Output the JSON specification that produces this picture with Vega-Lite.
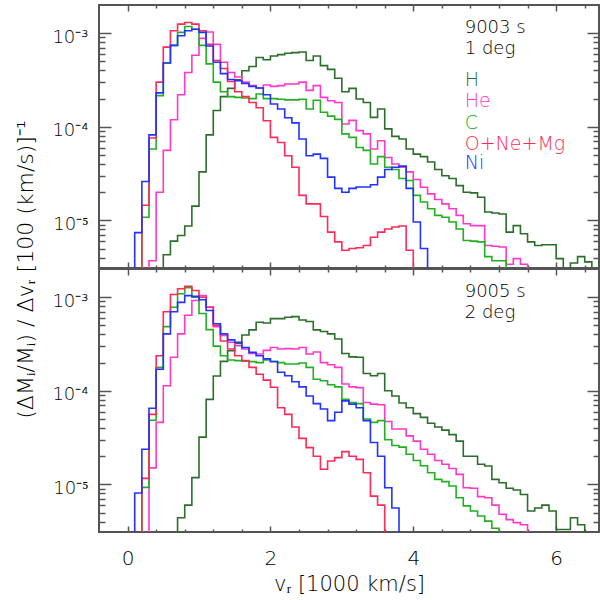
{
"$schema": "https://vega.github.io/schema/vega-lite/v6.json",
"autosize": {"type": "pad"},
"padding": {"left": 13, "top": 3, "right": 3, "bottom": 5},
"bounds": "flush",
"spacing": 1,
"config": {
  "view": {"stroke": "#555555", "strokeWidth": 2},
  "axis": {"grid": false, "domain": false, "labelFont": "DejaVu Sans", "titleFont": "DejaVu Sans", "labelColor": "#000000", "titleColor": "#000000", "tickColor": "#555555", "tickWidth": 1.5, "titleFontWeight": 300, "labelFontWeight": 300, "labelFlush": false, "labelOverlap": false},
  "text": {"font": "DejaVu Sans", "fontWeight": 300}
},
"datasets": {
"notes": [
{"p":"t","label":"9003 s","v":4.72,"f":1.0e-3},
{"p":"t","label":"1 deg","v":4.72,"f":5.95e-4},
{"p":"b","label":"9005 s","v":4.72,"f":1.0e-3},
{"p":"b","label":"2 deg","v":4.72,"f":5.95e-4}
],
"legend": [
{"el":"H","v":4.72,"f":2.7e-4},
{"el":"He","v":4.72,"f":1.61e-4},
{"el":"C","v":4.72,"f":9.5e-5},
{"el":"O+Ne+Mg","v":4.72,"f":5.7e-5},
{"el":"Ni","v":4.72,"f":3.5e-5}
],
"hist": [
{"p":"t","el":"H","v":0.4,"f":1e-9},{"p":"t","el":"H","v":0.5,"f":4.3e-6},{"p":"t","el":"H","v":0.6,"f":6.0e-6},{"p":"t","el":"H","v":0.7,"f":6.9e-6},{"p":"t","el":"H","v":0.8,"f":8.7e-6},{"p":"t","el":"H","v":0.9,"f":1.42e-5},{"p":"t","el":"H","v":1.0,"f":3.3e-5},{"p":"t","el":"H","v":1.1,"f":8.2e-5},{"p":"t","el":"H","v":1.2,"f":1.49e-4},{"p":"t","el":"H","v":1.3,"f":2.1e-4},{"p":"t","el":"H","v":1.4,"f":2.57e-4},{"p":"t","el":"H","v":1.5,"f":3.18e-4},{"p":"t","el":"H","v":1.6,"f":3.97e-4},{"p":"t","el":"H","v":1.7,"f":4.4e-4},{"p":"t","el":"H","v":1.8,"f":5.5e-4},{"p":"t","el":"H","v":1.9,"f":5.2e-4},{"p":"t","el":"H","v":2.0,"f":5.7e-4},{"p":"t","el":"H","v":2.1,"f":5.9e-4},{"p":"t","el":"H","v":2.2,"f":6.1e-4},{"p":"t","el":"H","v":2.3,"f":6.2e-4},{"p":"t","el":"H","v":2.4,"f":6.3e-4},{"p":"t","el":"H","v":2.5,"f":5.1e-4},{"p":"t","el":"H","v":2.6,"f":5.7e-4},{"p":"t","el":"H","v":2.7,"f":4.5e-4},{"p":"t","el":"H","v":2.8,"f":4.1e-4},{"p":"t","el":"H","v":2.9,"f":3.3e-4},{"p":"t","el":"H","v":3.0,"f":2.37e-4},{"p":"t","el":"H","v":3.1,"f":2.57e-4},{"p":"t","el":"H","v":3.2,"f":1.98e-4},{"p":"t","el":"H","v":3.3,"f":1.82e-4},{"p":"t","el":"H","v":3.4,"f":1.26e-4},{"p":"t","el":"H","v":3.5,"f":1.55e-4},{"p":"t","el":"H","v":3.6,"f":9.5e-5},{"p":"t","el":"H","v":3.7,"f":7.9e-5},{"p":"t","el":"H","v":3.8,"f":7.4e-5},{"p":"t","el":"H","v":3.9,"f":5.8e-5},{"p":"t","el":"H","v":4.0,"f":5.1e-5},{"p":"t","el":"H","v":4.1,"f":4.8e-5},{"p":"t","el":"H","v":4.2,"f":4.2e-5},{"p":"t","el":"H","v":4.3,"f":3.5e-5},{"p":"t","el":"H","v":4.4,"f":3.0e-5},{"p":"t","el":"H","v":4.5,"f":2.8e-5},{"p":"t","el":"H","v":4.6,"f":2.35e-5},{"p":"t","el":"H","v":4.7,"f":2.0e-5},{"p":"t","el":"H","v":4.8,"f":1.97e-5},{"p":"t","el":"H","v":4.9,"f":1.77e-5},{"p":"t","el":"H","v":5.0,"f":1.23e-5},{"p":"t","el":"H","v":5.1,"f":1.2e-5},{"p":"t","el":"H","v":5.2,"f":1.17e-5},{"p":"t","el":"H","v":5.3,"f":7.5e-6},{"p":"t","el":"H","v":5.4,"f":8.8e-6},{"p":"t","el":"H","v":5.5,"f":7.2e-6},{"p":"t","el":"H","v":5.6,"f":5.9e-6},{"p":"t","el":"H","v":5.7,"f":5.4e-6},{"p":"t","el":"H","v":5.8,"f":5.5e-6},{"p":"t","el":"H","v":5.9,"f":5.5e-6},{"p":"t","el":"H","v":6.0,"f":3.9e-6},{"p":"t","el":"H","v":6.1,"f":1e-9},{"p":"t","el":"H","v":6.2,"f":3.5e-6},{"p":"t","el":"H","v":6.3,"f":4.1e-6},{"p":"t","el":"H","v":6.4,"f":3.6e-6},{"p":"t","el":"H","v":6.5,"f":1e-9},
{"p":"t","el":"He","v":0.2,"f":1e-9},{"p":"t","el":"He","v":0.3,"f":3.7e-6},{"p":"t","el":"He","v":0.4,"f":2.0e-5},{"p":"t","el":"He","v":0.5,"f":5.6e-5},{"p":"t","el":"He","v":0.6,"f":1.19e-4},{"p":"t","el":"He","v":0.7,"f":2.2e-4},{"p":"t","el":"He","v":0.8,"f":3.8e-4},{"p":"t","el":"He","v":0.9,"f":5.8e-4},{"p":"t","el":"He","v":1.0,"f":8.8e-4},{"p":"t","el":"He","v":1.1,"f":1.03e-3},{"p":"t","el":"He","v":1.2,"f":7.6e-4},{"p":"t","el":"He","v":1.3,"f":4.9e-4},{"p":"t","el":"He","v":1.4,"f":3.8e-4},{"p":"t","el":"He","v":1.5,"f":3.4e-4},{"p":"t","el":"He","v":1.6,"f":3.0e-4},{"p":"t","el":"He","v":1.7,"f":2.75e-4},{"p":"t","el":"He","v":1.8,"f":2.6e-4},{"p":"t","el":"He","v":1.9,"f":2.8e-4},{"p":"t","el":"He","v":2.0,"f":2.7e-4},{"p":"t","el":"He","v":2.1,"f":2.75e-4},{"p":"t","el":"He","v":2.2,"f":2.86e-4},{"p":"t","el":"He","v":2.3,"f":2.86e-4},{"p":"t","el":"He","v":2.4,"f":3.0e-4},{"p":"t","el":"He","v":2.5,"f":2.45e-4},{"p":"t","el":"He","v":2.6,"f":2.75e-4},{"p":"t","el":"He","v":2.7,"f":2.06e-4},{"p":"t","el":"He","v":2.8,"f":1.9e-4},{"p":"t","el":"He","v":2.9,"f":1.82e-4},{"p":"t","el":"He","v":3.0,"f":1.07e-4},{"p":"t","el":"He","v":3.1,"f":1.17e-4},{"p":"t","el":"He","v":3.2,"f":9.1e-5},{"p":"t","el":"He","v":3.3,"f":8.4e-5},{"p":"t","el":"He","v":3.4,"f":5.8e-5},{"p":"t","el":"He","v":3.5,"f":7.1e-5},{"p":"t","el":"He","v":3.6,"f":4.7e-5},{"p":"t","el":"He","v":3.7,"f":4.0e-5},{"p":"t","el":"He","v":3.8,"f":3.7e-5},{"p":"t","el":"He","v":3.9,"f":3.3e-5},{"p":"t","el":"He","v":4.0,"f":2.73e-5},{"p":"t","el":"He","v":4.1,"f":2.26e-5},{"p":"t","el":"He","v":4.2,"f":1.92e-5},{"p":"t","el":"He","v":4.3,"f":1.67e-5},{"p":"t","el":"He","v":4.4,"f":1.5e-5},{"p":"t","el":"He","v":4.5,"f":1.33e-5},{"p":"t","el":"He","v":4.6,"f":1.13e-5},{"p":"t","el":"He","v":4.7,"f":9.2e-6},{"p":"t","el":"He","v":4.8,"f":8.8e-6},{"p":"t","el":"He","v":4.9,"f":8.8e-6},{"p":"t","el":"He","v":5.0,"f":5.4e-6},{"p":"t","el":"He","v":5.1,"f":5.3e-6},{"p":"t","el":"He","v":5.2,"f":5.2e-6},{"p":"t","el":"He","v":5.3,"f":3.4e-6},{"p":"t","el":"He","v":5.4,"f":3.9e-6},{"p":"t","el":"He","v":5.5,"f":3.4e-6},{"p":"t","el":"He","v":5.6,"f":1e-9},
{"p":"t","el":"C","v":0.1,"f":1e-9},{"p":"t","el":"C","v":0.2,"f":1.08e-5},{"p":"t","el":"C","v":0.3,"f":5.8e-5},{"p":"t","el":"C","v":0.4,"f":2.15e-4},{"p":"t","el":"C","v":0.5,"f":4.8e-4},{"p":"t","el":"C","v":0.6,"f":7.4e-4},{"p":"t","el":"C","v":0.7,"f":1.02e-3},{"p":"t","el":"C","v":0.8,"f":1.18e-3},{"p":"t","el":"C","v":0.9,"f":1.1e-3},{"p":"t","el":"C","v":1.0,"f":7.4e-4},{"p":"t","el":"C","v":1.1,"f":4.7e-4},{"p":"t","el":"C","v":1.2,"f":3.0e-4},{"p":"t","el":"C","v":1.3,"f":2.37e-4},{"p":"t","el":"C","v":1.4,"f":2.1e-4},{"p":"t","el":"C","v":1.5,"f":2.06e-4},{"p":"t","el":"C","v":1.6,"f":2.03e-4},{"p":"t","el":"C","v":1.7,"f":2.0e-4},{"p":"t","el":"C","v":1.8,"f":2.24e-4},{"p":"t","el":"C","v":1.9,"f":2.0e-4},{"p":"t","el":"C","v":2.0,"f":2.0e-4},{"p":"t","el":"C","v":2.1,"f":1.97e-4},{"p":"t","el":"C","v":2.2,"f":1.94e-4},{"p":"t","el":"C","v":2.3,"f":1.94e-4},{"p":"t","el":"C","v":2.4,"f":1.97e-4},{"p":"t","el":"C","v":2.5,"f":1.55e-4},{"p":"t","el":"C","v":2.6,"f":1.92e-4},{"p":"t","el":"C","v":2.7,"f":1.43e-4},{"p":"t","el":"C","v":2.8,"f":1.3e-4},{"p":"t","el":"C","v":2.9,"f":1.2e-4},{"p":"t","el":"C","v":3.0,"f":8.4e-5},{"p":"t","el":"C","v":3.1,"f":7.7e-5},{"p":"t","el":"C","v":3.2,"f":6.0e-5},{"p":"t","el":"C","v":3.3,"f":5.6e-5},{"p":"t","el":"C","v":3.4,"f":4.0e-5},{"p":"t","el":"C","v":3.5,"f":4.8e-5},{"p":"t","el":"C","v":3.6,"f":3.7e-5},{"p":"t","el":"C","v":3.7,"f":3.5e-5},{"p":"t","el":"C","v":3.8,"f":2.8e-5},{"p":"t","el":"C","v":3.9,"f":2.67e-5},{"p":"t","el":"C","v":4.0,"f":1.85e-5},{"p":"t","el":"C","v":4.1,"f":1.57e-5},{"p":"t","el":"C","v":4.2,"f":1.33e-5},{"p":"t","el":"C","v":4.3,"f":1.13e-5},{"p":"t","el":"C","v":4.4,"f":1.08e-5},{"p":"t","el":"C","v":4.5,"f":9.6e-6},{"p":"t","el":"C","v":4.6,"f":8.1e-6},{"p":"t","el":"C","v":4.7,"f":6.1e-6},{"p":"t","el":"C","v":4.8,"f":6.0e-6},{"p":"t","el":"C","v":4.9,"f":5.9e-6},{"p":"t","el":"C","v":5.0,"f":4.1e-6},{"p":"t","el":"C","v":5.1,"f":3.7e-6},{"p":"t","el":"C","v":5.2,"f":3.7e-6},{"p":"t","el":"C","v":5.3,"f":1e-9},
{"p":"t","el":"O+Ne+Mg","v":0.1,"f":1e-9},{"p":"t","el":"O+Ne+Mg","v":0.2,"f":1.45e-5},{"p":"t","el":"O+Ne+Mg","v":0.3,"f":7.6e-5},{"p":"t","el":"O+Ne+Mg","v":0.4,"f":3.0e-4},{"p":"t","el":"O+Ne+Mg","v":0.5,"f":7.1e-4},{"p":"t","el":"O+Ne+Mg","v":0.6,"f":1.06e-3},{"p":"t","el":"O+Ne+Mg","v":0.7,"f":1.25e-3},{"p":"t","el":"O+Ne+Mg","v":0.8,"f":1.3e-3},{"p":"t","el":"O+Ne+Mg","v":0.9,"f":1.25e-3},{"p":"t","el":"O+Ne+Mg","v":1.0,"f":1.06e-3},{"p":"t","el":"O+Ne+Mg","v":1.1,"f":7.6e-4},{"p":"t","el":"O+Ne+Mg","v":1.2,"f":5.1e-4},{"p":"t","el":"O+Ne+Mg","v":1.3,"f":4.2e-4},{"p":"t","el":"O+Ne+Mg","v":1.4,"f":3.05e-4},{"p":"t","el":"O+Ne+Mg","v":1.5,"f":2.37e-4},{"p":"t","el":"O+Ne+Mg","v":1.6,"f":2.1e-4},{"p":"t","el":"O+Ne+Mg","v":1.7,"f":1.82e-4},{"p":"t","el":"O+Ne+Mg","v":1.8,"f":1.6e-4},{"p":"t","el":"O+Ne+Mg","v":1.9,"f":1.16e-4},{"p":"t","el":"O+Ne+Mg","v":2.0,"f":7.7e-5},{"p":"t","el":"O+Ne+Mg","v":2.1,"f":6.8e-5},{"p":"t","el":"O+Ne+Mg","v":2.2,"f":4.9e-5},{"p":"t","el":"O+Ne+Mg","v":2.3,"f":3.7e-5},{"p":"t","el":"O+Ne+Mg","v":2.4,"f":1.85e-5},{"p":"t","el":"O+Ne+Mg","v":2.5,"f":1.5e-5},{"p":"t","el":"O+Ne+Mg","v":2.6,"f":1.5e-5},{"p":"t","el":"O+Ne+Mg","v":2.7,"f":1.1e-5},{"p":"t","el":"O+Ne+Mg","v":2.8,"f":7.5e-6},{"p":"t","el":"O+Ne+Mg","v":2.9,"f":5.9e-6},{"p":"t","el":"O+Ne+Mg","v":3.0,"f":4.8e-6},{"p":"t","el":"O+Ne+Mg","v":3.1,"f":5.0e-6},{"p":"t","el":"O+Ne+Mg","v":3.2,"f":5.1e-6},{"p":"t","el":"O+Ne+Mg","v":3.3,"f":5.4e-6},{"p":"t","el":"O+Ne+Mg","v":3.4,"f":6.6e-6},{"p":"t","el":"O+Ne+Mg","v":3.5,"f":7.5e-6},{"p":"t","el":"O+Ne+Mg","v":3.6,"f":8.1e-6},{"p":"t","el":"O+Ne+Mg","v":3.7,"f":8.5e-6},{"p":"t","el":"O+Ne+Mg","v":3.8,"f":8.7e-6},{"p":"t","el":"O+Ne+Mg","v":3.9,"f":4.8e-6},{"p":"t","el":"O+Ne+Mg","v":4.0,"f":1e-9},
{"p":"t","el":"Ni","v":0.0,"f":1e-9},{"p":"t","el":"Ni","v":0.1,"f":7.4e-6},{"p":"t","el":"Ni","v":0.2,"f":2.6e-5},{"p":"t","el":"Ni","v":0.3,"f":8.2e-5},{"p":"t","el":"Ni","v":0.4,"f":2.3e-4},{"p":"t","el":"Ni","v":0.5,"f":4.8e-4},{"p":"t","el":"Ni","v":0.6,"f":7.4e-4},{"p":"t","el":"Ni","v":0.7,"f":9.4e-4},{"p":"t","el":"Ni","v":0.8,"f":1.06e-3},{"p":"t","el":"Ni","v":0.9,"f":1.1e-3},{"p":"t","el":"Ni","v":1.0,"f":1.02e-3},{"p":"t","el":"Ni","v":1.1,"f":7.3e-4},{"p":"t","el":"Ni","v":1.2,"f":4.9e-4},{"p":"t","el":"Ni","v":1.3,"f":3.7e-4},{"p":"t","el":"Ni","v":1.4,"f":3.2e-4},{"p":"t","el":"Ni","v":1.5,"f":3.1e-4},{"p":"t","el":"Ni","v":1.6,"f":2.9e-4},{"p":"t","el":"Ni","v":1.7,"f":2.7e-4},{"p":"t","el":"Ni","v":1.8,"f":2.6e-4},{"p":"t","el":"Ni","v":1.9,"f":2.2e-4},{"p":"t","el":"Ni","v":2.0,"f":1.75e-4},{"p":"t","el":"Ni","v":2.1,"f":1.55e-4},{"p":"t","el":"Ni","v":2.2,"f":1.25e-4},{"p":"t","el":"Ni","v":2.3,"f":1.1e-4},{"p":"t","el":"Ni","v":2.4,"f":7.4e-5},{"p":"t","el":"Ni","v":2.5,"f":4.9e-5},{"p":"t","el":"Ni","v":2.6,"f":5.1e-5},{"p":"t","el":"Ni","v":2.7,"f":4.6e-5},{"p":"t","el":"Ni","v":2.8,"f":2.9e-5},{"p":"t","el":"Ni","v":2.9,"f":2.2e-5},{"p":"t","el":"Ni","v":3.0,"f":2.0e-5},{"p":"t","el":"Ni","v":3.1,"f":2.2e-5},{"p":"t","el":"Ni","v":3.2,"f":2.27e-5},{"p":"t","el":"Ni","v":3.3,"f":2.27e-5},{"p":"t","el":"Ni","v":3.4,"f":2.4e-5},{"p":"t","el":"Ni","v":3.5,"f":2.9e-5},{"p":"t","el":"Ni","v":3.6,"f":3.5e-5},{"p":"t","el":"Ni","v":3.7,"f":3.7e-5},{"p":"t","el":"Ni","v":3.8,"f":3.8e-5},{"p":"t","el":"Ni","v":3.9,"f":2.2e-5},{"p":"t","el":"Ni","v":4.0,"f":9.6e-6},{"p":"t","el":"Ni","v":4.1,"f":5.0e-6},{"p":"t","el":"Ni","v":4.2,"f":1e-9},
{"p":"b","el":"H","v":0.6,"f":1e-9},{"p":"b","el":"H","v":0.7,"f":4.4e-6},{"p":"b","el":"H","v":0.8,"f":6.0e-6},{"p":"b","el":"H","v":0.9,"f":1.18e-5},{"p":"b","el":"H","v":1.0,"f":3.2e-5},{"p":"b","el":"H","v":1.1,"f":8.1e-5},{"p":"b","el":"H","v":1.2,"f":1.44e-4},{"p":"b","el":"H","v":1.3,"f":2.06e-4},{"p":"b","el":"H","v":1.4,"f":2.68e-4},{"p":"b","el":"H","v":1.5,"f":3.2e-4},{"p":"b","el":"H","v":1.6,"f":3.95e-4},{"p":"b","el":"H","v":1.7,"f":4.47e-4},{"p":"b","el":"H","v":1.8,"f":5.4e-4},{"p":"b","el":"H","v":1.9,"f":5.3e-4},{"p":"b","el":"H","v":2.0,"f":5.9e-4},{"p":"b","el":"H","v":2.1,"f":5.9e-4},{"p":"b","el":"H","v":2.2,"f":6.1e-4},{"p":"b","el":"H","v":2.3,"f":6.2e-4},{"p":"b","el":"H","v":2.4,"f":5.7e-4},{"p":"b","el":"H","v":2.5,"f":5.5e-4},{"p":"b","el":"H","v":2.6,"f":4.47e-4},{"p":"b","el":"H","v":2.7,"f":4.3e-4},{"p":"b","el":"H","v":2.8,"f":4.05e-4},{"p":"b","el":"H","v":2.9,"f":3.58e-4},{"p":"b","el":"H","v":3.0,"f":2.5e-4},{"p":"b","el":"H","v":3.1,"f":2.3e-4},{"p":"b","el":"H","v":3.2,"f":2.28e-4},{"p":"b","el":"H","v":3.3,"f":1.53e-4},{"p":"b","el":"H","v":3.4,"f":1.45e-4},{"p":"b","el":"H","v":3.5,"f":1.53e-4},{"p":"b","el":"H","v":3.6,"f":1.0e-4},{"p":"b","el":"H","v":3.7,"f":8.8e-5},{"p":"b","el":"H","v":3.8,"f":7.4e-5},{"p":"b","el":"H","v":3.9,"f":6.6e-5},{"p":"b","el":"H","v":4.0,"f":5.7e-5},{"p":"b","el":"H","v":4.1,"f":5.2e-5},{"p":"b","el":"H","v":4.2,"f":4.5e-5},{"p":"b","el":"H","v":4.3,"f":4.1e-5},{"p":"b","el":"H","v":4.4,"f":3.8e-5},{"p":"b","el":"H","v":4.5,"f":3.4e-5},{"p":"b","el":"H","v":4.6,"f":2.9e-5},{"p":"b","el":"H","v":4.7,"f":2.0e-5},{"p":"b","el":"H","v":4.8,"f":2.0e-5},{"p":"b","el":"H","v":4.9,"f":1.64e-5},{"p":"b","el":"H","v":5.0,"f":1.57e-5},{"p":"b","el":"H","v":5.1,"f":1.13e-5},{"p":"b","el":"H","v":5.2,"f":1.04e-5},{"p":"b","el":"H","v":5.3,"f":9.1e-6},{"p":"b","el":"H","v":5.4,"f":8.7e-6},{"p":"b","el":"H","v":5.5,"f":7.8e-6},{"p":"b","el":"H","v":5.6,"f":5.2e-6},{"p":"b","el":"H","v":5.7,"f":5.6e-6},{"p":"b","el":"H","v":5.8,"f":6.0e-6},{"p":"b","el":"H","v":5.9,"f":5.2e-6},{"p":"b","el":"H","v":6.0,"f":3.3e-6},{"p":"b","el":"H","v":6.1,"f":3.3e-6},{"p":"b","el":"H","v":6.2,"f":4.4e-6},{"p":"b","el":"H","v":6.3,"f":3.7e-6},{"p":"b","el":"H","v":6.4,"f":1e-9},
{"p":"b","el":"He","v":0.2,"f":1e-9},{"p":"b","el":"He","v":0.3,"f":1.5e-5},{"p":"b","el":"He","v":0.4,"f":4.6e-5},{"p":"b","el":"He","v":0.5,"f":1.13e-4},{"p":"b","el":"He","v":0.6,"f":2.28e-4},{"p":"b","el":"He","v":0.7,"f":4.05e-4},{"p":"b","el":"He","v":0.8,"f":6.4e-4},{"p":"b","el":"He","v":0.9,"f":9.2e-4},{"p":"b","el":"He","v":1.0,"f":1.04e-3},{"p":"b","el":"He","v":1.1,"f":7.8e-4},{"p":"b","el":"He","v":1.2,"f":4.85e-4},{"p":"b","el":"He","v":1.3,"f":3.9e-4},{"p":"b","el":"He","v":1.4,"f":3.3e-4},{"p":"b","el":"He","v":1.5,"f":3.03e-4},{"p":"b","el":"He","v":1.6,"f":2.8e-4},{"p":"b","el":"He","v":1.7,"f":2.5e-4},{"p":"b","el":"He","v":1.8,"f":2.47e-4},{"p":"b","el":"He","v":1.9,"f":2.7e-4},{"p":"b","el":"He","v":2.0,"f":2.9e-4},{"p":"b","el":"He","v":2.1,"f":2.8e-4},{"p":"b","el":"He","v":2.2,"f":2.82e-4},{"p":"b","el":"He","v":2.3,"f":2.8e-4},{"p":"b","el":"He","v":2.4,"f":2.9e-4},{"p":"b","el":"He","v":2.5,"f":2.47e-4},{"p":"b","el":"He","v":2.6,"f":2.6e-4},{"p":"b","el":"He","v":2.7,"f":2.0e-4},{"p":"b","el":"He","v":2.8,"f":1.9e-4},{"p":"b","el":"He","v":2.9,"f":1.78e-4},{"p":"b","el":"He","v":3.0,"f":1.18e-4},{"p":"b","el":"He","v":3.1,"f":1.1e-4},{"p":"b","el":"He","v":3.2,"f":1.08e-4},{"p":"b","el":"He","v":3.3,"f":7.5e-5},{"p":"b","el":"He","v":3.4,"f":7.2e-5},{"p":"b","el":"He","v":3.5,"f":7.1e-5},{"p":"b","el":"He","v":3.6,"f":4.7e-5},{"p":"b","el":"He","v":3.7,"f":3.9e-5},{"p":"b","el":"He","v":3.8,"f":3.9e-5},{"p":"b","el":"He","v":3.9,"f":3.3e-5},{"p":"b","el":"He","v":4.0,"f":2.9e-5},{"p":"b","el":"He","v":4.1,"f":2.37e-5},{"p":"b","el":"He","v":4.2,"f":2.1e-5},{"p":"b","el":"He","v":4.3,"f":1.8e-5},{"p":"b","el":"He","v":4.4,"f":1.64e-5},{"p":"b","el":"He","v":4.5,"f":1.48e-5},{"p":"b","el":"He","v":4.6,"f":1.28e-5},{"p":"b","el":"He","v":4.7,"f":9.2e-6},{"p":"b","el":"He","v":4.8,"f":9.1e-6},{"p":"b","el":"He","v":4.9,"f":7.4e-6},{"p":"b","el":"He","v":5.0,"f":7.2e-6},{"p":"b","el":"He","v":5.1,"f":6.0e-6},{"p":"b","el":"He","v":5.2,"f":4.8e-6},{"p":"b","el":"He","v":5.3,"f":4.2e-6},{"p":"b","el":"He","v":5.4,"f":3.9e-6},{"p":"b","el":"He","v":5.5,"f":3.7e-6},{"p":"b","el":"He","v":5.6,"f":1e-9},
{"p":"b","el":"C","v":0.1,"f":1e-9},{"p":"b","el":"C","v":0.2,"f":9.3e-6},{"p":"b","el":"C","v":0.3,"f":4.85e-5},{"p":"b","el":"C","v":0.4,"f":1.78e-4},{"p":"b","el":"C","v":0.5,"f":4.85e-4},{"p":"b","el":"C","v":0.6,"f":7.8e-4},{"p":"b","el":"C","v":0.7,"f":1.09e-3},{"p":"b","el":"C","v":0.8,"f":1.26e-3},{"p":"b","el":"C","v":0.9,"f":1.0e-3},{"p":"b","el":"C","v":1.0,"f":6.7e-4},{"p":"b","el":"C","v":1.1,"f":4.5e-4},{"p":"b","el":"C","v":1.2,"f":3.0e-4},{"p":"b","el":"C","v":1.3,"f":2.37e-4},{"p":"b","el":"C","v":1.4,"f":2.13e-4},{"p":"b","el":"C","v":1.5,"f":2.1e-4},{"p":"b","el":"C","v":1.6,"f":2.07e-4},{"p":"b","el":"C","v":1.7,"f":2.05e-4},{"p":"b","el":"C","v":1.8,"f":2.0e-4},{"p":"b","el":"C","v":1.9,"f":2.13e-4},{"p":"b","el":"C","v":2.0,"f":2.07e-4},{"p":"b","el":"C","v":2.1,"f":2.0e-4},{"p":"b","el":"C","v":2.2,"f":1.93e-4},{"p":"b","el":"C","v":2.3,"f":1.93e-4},{"p":"b","el":"C","v":2.4,"f":1.98e-4},{"p":"b","el":"C","v":2.5,"f":1.78e-4},{"p":"b","el":"C","v":2.6,"f":1.33e-4},{"p":"b","el":"C","v":2.7,"f":1.28e-4},{"p":"b","el":"C","v":2.8,"f":1.16e-4},{"p":"b","el":"C","v":2.9,"f":1.1e-4},{"p":"b","el":"C","v":3.0,"f":8.1e-5},{"p":"b","el":"C","v":3.1,"f":7.5e-5},{"p":"b","el":"C","v":3.2,"f":7.3e-5},{"p":"b","el":"C","v":3.3,"f":5.0e-5},{"p":"b","el":"C","v":3.4,"f":4.6e-5},{"p":"b","el":"C","v":3.5,"f":4.8e-5},{"p":"b","el":"C","v":3.6,"f":3.0e-5},{"p":"b","el":"C","v":3.7,"f":2.6e-5},{"p":"b","el":"C","v":3.8,"f":2.5e-5},{"p":"b","el":"C","v":3.9,"f":2.1e-5},{"p":"b","el":"C","v":4.0,"f":1.8e-5},{"p":"b","el":"C","v":4.1,"f":1.58e-5},{"p":"b","el":"C","v":4.2,"f":1.33e-5},{"p":"b","el":"C","v":4.3,"f":1.13e-5},{"p":"b","el":"C","v":4.4,"f":1.07e-5},{"p":"b","el":"C","v":4.5,"f":9.6e-6},{"p":"b","el":"C","v":4.6,"f":7.2e-6},{"p":"b","el":"C","v":4.7,"f":5.9e-6},{"p":"b","el":"C","v":4.8,"f":5.2e-6},{"p":"b","el":"C","v":4.9,"f":4.6e-6},{"p":"b","el":"C","v":5.0,"f":4.05e-6},{"p":"b","el":"C","v":5.1,"f":3.4e-6},{"p":"b","el":"C","v":5.2,"f":1e-9},
{"p":"b","el":"O+Ne+Mg","v":0.1,"f":1e-9},{"p":"b","el":"O+Ne+Mg","v":0.2,"f":1.16e-5},{"p":"b","el":"O+Ne+Mg","v":0.3,"f":5.6e-5},{"p":"b","el":"O+Ne+Mg","v":0.4,"f":2.37e-4},{"p":"b","el":"O+Ne+Mg","v":0.5,"f":7.0e-4},{"p":"b","el":"O+Ne+Mg","v":0.6,"f":1.07e-3},{"p":"b","el":"O+Ne+Mg","v":0.7,"f":1.23e-3},{"p":"b","el":"O+Ne+Mg","v":0.8,"f":1.31e-3},{"p":"b","el":"O+Ne+Mg","v":0.9,"f":1.18e-3},{"p":"b","el":"O+Ne+Mg","v":1.0,"f":1.0e-3},{"p":"b","el":"O+Ne+Mg","v":1.1,"f":7.8e-4},{"p":"b","el":"O+Ne+Mg","v":1.2,"f":5.0e-4},{"p":"b","el":"O+Ne+Mg","v":1.3,"f":3.4e-4},{"p":"b","el":"O+Ne+Mg","v":1.4,"f":2.8e-4},{"p":"b","el":"O+Ne+Mg","v":1.5,"f":2.37e-4},{"p":"b","el":"O+Ne+Mg","v":1.6,"f":2.1e-4},{"p":"b","el":"O+Ne+Mg","v":1.7,"f":1.78e-4},{"p":"b","el":"O+Ne+Mg","v":1.8,"f":1.5e-4},{"p":"b","el":"O+Ne+Mg","v":1.9,"f":1.3e-4},{"p":"b","el":"O+Ne+Mg","v":2.0,"f":1.09e-4},{"p":"b","el":"O+Ne+Mg","v":2.1,"f":6.6e-5},{"p":"b","el":"O+Ne+Mg","v":2.2,"f":5.6e-5},{"p":"b","el":"O+Ne+Mg","v":2.3,"f":4.1e-5},{"p":"b","el":"O+Ne+Mg","v":2.4,"f":3.1e-5},{"p":"b","el":"O+Ne+Mg","v":2.5,"f":2.47e-5},{"p":"b","el":"O+Ne+Mg","v":2.6,"f":2.0e-5},{"p":"b","el":"O+Ne+Mg","v":2.7,"f":1.45e-5},{"p":"b","el":"O+Ne+Mg","v":2.8,"f":1.78e-5},{"p":"b","el":"O+Ne+Mg","v":2.9,"f":1.93e-5},{"p":"b","el":"O+Ne+Mg","v":3.0,"f":2.24e-5},{"p":"b","el":"O+Ne+Mg","v":3.1,"f":2.0e-5},{"p":"b","el":"O+Ne+Mg","v":3.2,"f":1.85e-5},{"p":"b","el":"O+Ne+Mg","v":3.3,"f":1.33e-5},{"p":"b","el":"O+Ne+Mg","v":3.4,"f":7.5e-6},{"p":"b","el":"O+Ne+Mg","v":3.5,"f":6.0e-6},{"p":"b","el":"O+Ne+Mg","v":3.6,"f":1e-9},
{"p":"b","el":"Ni","v":0.0,"f":1e-9},{"p":"b","el":"Ni","v":0.1,"f":8.1e-6},{"p":"b","el":"Ni","v":0.2,"f":2.37e-5},{"p":"b","el":"Ni","v":0.3,"f":6.5e-5},{"p":"b","el":"Ni","v":0.4,"f":1.7e-4},{"p":"b","el":"Ni","v":0.5,"f":4.05e-4},{"p":"b","el":"Ni","v":0.6,"f":7.0e-4},{"p":"b","el":"Ni","v":0.7,"f":8.8e-4},{"p":"b","el":"Ni","v":0.8,"f":1.04e-3},{"p":"b","el":"Ni","v":0.9,"f":1.02e-3},{"p":"b","el":"Ni","v":1.0,"f":9.4e-4},{"p":"b","el":"Ni","v":1.1,"f":7.2e-4},{"p":"b","el":"Ni","v":1.2,"f":5.2e-4},{"p":"b","el":"Ni","v":1.3,"f":4.05e-4},{"p":"b","el":"Ni","v":1.4,"f":3.5e-4},{"p":"b","el":"Ni","v":1.5,"f":3.3e-4},{"p":"b","el":"Ni","v":1.6,"f":2.9e-4},{"p":"b","el":"Ni","v":1.7,"f":2.57e-4},{"p":"b","el":"Ni","v":1.8,"f":2.37e-4},{"p":"b","el":"Ni","v":1.9,"f":2.19e-4},{"p":"b","el":"Ni","v":2.0,"f":2.04e-4},{"p":"b","el":"Ni","v":2.1,"f":1.58e-4},{"p":"b","el":"Ni","v":2.2,"f":1.45e-4},{"p":"b","el":"Ni","v":2.3,"f":1.25e-4},{"p":"b","el":"Ni","v":2.4,"f":1.1e-4},{"p":"b","el":"Ni","v":2.5,"f":8.8e-5},{"p":"b","el":"Ni","v":2.6,"f":7.3e-5},{"p":"b","el":"Ni","v":2.7,"f":6.4e-5},{"p":"b","el":"Ni","v":2.8,"f":4.8e-5},{"p":"b","el":"Ni","v":2.9,"f":5.9e-5},{"p":"b","el":"Ni","v":3.0,"f":7.8e-5},{"p":"b","el":"Ni","v":3.1,"f":7.2e-5},{"p":"b","el":"Ni","v":3.2,"f":6.6e-5},{"p":"b","el":"Ni","v":3.3,"f":4.8e-5},{"p":"b","el":"Ni","v":3.4,"f":2.8e-5},{"p":"b","el":"Ni","v":3.5,"f":2.0e-5},{"p":"b","el":"Ni","v":3.6,"f":9.2e-6},{"p":"b","el":"Ni","v":3.7,"f":5.6e-6},{"p":"b","el":"Ni","v":3.8,"f":1e-9}
]
},
"vconcat": [
{
  "width": 500, "height": 263,
  "resolve": {"axis": {"x": "independent", "y": "independent"}},
  "layer": [
    {
      "data": {"name": "hist"},
      "transform": [{"filter": "datum.p === 't'"}],
      "mark": {"type": "line", "interpolate": "step-after", "clip": true, "strokeWidth": 1.6},
      "encoding": {
        "x": {"field": "v", "type": "quantitative", "scale": {"domain": [-0.4, 6.6], "nice": false, "zero": false}, "axis": null},
        "y": {"field": "f", "type": "quantitative", "scale": {"type": "log", "domain": [3.1e-6, 2e-3], "nice": false},
              "axis": {"orient": "left", "values": [1e-5, 1e-4, 1e-3], "ticks": false, "labelExpr": "datum.value > 5e-4 ? '10⁻³' : datum.value > 5e-5 ? '10⁻⁴' : '10⁻⁵'", "labelFontSize": 18, "labelPadding": 11, "labelBaseline": "alphabetic", "labelOffset": 9,
                       "title": "(ΔMᵢ/Mᵢ) / Δvᵣ [100 (km/s)]⁻¹", "titleFontSize": 22, "titleX": -67, "titleY": 264, "titleAngle": -90, "titleBaseline": "alphabetic", "titleAlign": "center"}},
        "color": {"field": "el", "type": "nominal", "scale": {"domain": ["H", "He", "C", "O+Ne+Mg", "Ni"], "range": ["#2b6e2b", "#ff38cc", "#22b022", "#ff2a58", "#2233ff"]}, "legend": null}
      }
    },
    {
      "data": {"name": "notes"},
      "transform": [{"filter": "datum.p === 't'"}],
      "mark": {"type": "text", "align": "left", "baseline": "alphabetic", "fontSize": 18, "color": "#000000"},
      "encoding": {
        "x": {"field": "v", "type": "quantitative", "scale": {"domain": [-0.4, 6.6], "nice": false, "zero": false}, "axis": null},
        "y": {"field": "f", "type": "quantitative", "scale": {"type": "log", "domain": [3.1e-6, 2e-3], "nice": false}, "axis": null},
        "text": {"field": "label"}
      }
    },
    {
      "data": {"name": "legend"},
      "mark": {"type": "text", "align": "left", "baseline": "alphabetic", "fontSize": 19},
      "encoding": {
        "x": {"field": "v", "type": "quantitative", "scale": {"domain": [-0.4, 6.6], "nice": false, "zero": false}, "axis": null},
        "y": {"field": "f", "type": "quantitative", "scale": {"type": "log", "domain": [3.1e-6, 2e-3], "nice": false}, "axis": null},
        "text": {"field": "el"},
        "color": {"field": "el", "type": "nominal", "scale": {"domain": ["H", "He", "C", "O+Ne+Mg", "Ni"], "range": ["#2b6e2b", "#ff38cc", "#22b022", "#ff2a58", "#2233ff"]}, "legend": null}
      }
    },
    {
      "data": {"name": "notes"},
      "mark": {"type": "point", "opacity": 0},
      "encoding": {
        "x": {"field": "v", "type": "quantitative", "scale": {"domain": [-0.4, 6.6], "nice": false, "zero": false}, "axis": {"orient": "bottom", "values": [0, 2, 4, 6], "labels": false, "title": null, "tickSize": 6, "offset": -6}},
        "y": {"field": "f", "type": "quantitative", "scale": {"type": "log", "domain": [3.1e-6, 2e-3], "nice": false}, "axis": {"orient": "left", "values": [1e-5, 1e-4, 1e-3], "labels": false, "title": null, "tickSize": 12, "offset": -12}}
      }
    },
    {
      "data": {"name": "notes"},
      "mark": {"type": "point", "opacity": 0},
      "encoding": {
        "x": {"field": "v", "type": "quantitative", "scale": {"domain": [-0.4, 6.6], "nice": false, "zero": false}, "axis": {"orient": "bottom", "values": [0.4, 0.8, 1.2, 1.6, 2.4, 2.8, 3.2, 3.6, 4.4, 4.8, 5.2, 5.6, 6.4], "labels": false, "title": null, "tickSize": 3, "offset": -3}},
        "y": {"field": "f", "type": "quantitative", "scale": {"type": "log", "domain": [3.1e-6, 2e-3], "nice": false}, "axis": {"orient": "left", "values": [4e-6, 5e-6, 6e-6, 7e-6, 8e-6, 9e-6, 2e-5, 3e-5, 4e-5, 5e-5, 6e-5, 7e-5, 8e-5, 9e-5, 2e-4, 3e-4, 4e-4, 5e-4, 6e-4, 7e-4, 8e-4, 9e-4], "labels": false, "title": null, "tickSize": 6, "offset": -6}}
      }
    },
    {
      "data": {"name": "notes"},
      "mark": {"type": "point", "opacity": 0},
      "encoding": {
        "x": {"field": "v", "type": "quantitative", "scale": {"domain": [-0.4, 6.6], "nice": false, "zero": false}, "axis": {"orient": "top", "values": [0, 2, 4, 6], "labels": false, "title": null, "tickSize": 6, "offset": -6}},
        "y": {"field": "f", "type": "quantitative", "scale": {"type": "log", "domain": [3.1e-6, 2e-3], "nice": false}, "axis": {"orient": "right", "values": [1e-5, 1e-4, 1e-3], "labels": false, "title": null, "tickSize": 12, "offset": -12}}
      }
    },
    {
      "data": {"name": "notes"},
      "mark": {"type": "point", "opacity": 0},
      "encoding": {
        "x": {"field": "v", "type": "quantitative", "scale": {"domain": [-0.4, 6.6], "nice": false, "zero": false}, "axis": {"orient": "top", "values": [0.4, 0.8, 1.2, 1.6, 2.4, 2.8, 3.2, 3.6, 4.4, 4.8, 5.2, 5.6, 6.4], "labels": false, "title": null, "tickSize": 3, "offset": -3}},
        "y": {"field": "f", "type": "quantitative", "scale": {"type": "log", "domain": [3.1e-6, 2e-3], "nice": false}, "axis": {"orient": "right", "values": [4e-6, 5e-6, 6e-6, 7e-6, 8e-6, 9e-6, 2e-5, 3e-5, 4e-5, 5e-5, 6e-5, 7e-5, 8e-5, 9e-5, 2e-4, 3e-4, 4e-4, 5e-4, 6e-4, 7e-4, 8e-4, 9e-4], "labels": false, "title": null, "tickSize": 6, "offset": -6}}
      }
    }
  ]
},
{
  "width": 500, "height": 263,
  "resolve": {"axis": {"x": "independent", "y": "independent"}},
  "layer": [
    {
      "data": {"name": "hist"},
      "transform": [{"filter": "datum.p === 'b'"}],
      "mark": {"type": "line", "interpolate": "step-after", "clip": true, "strokeWidth": 1.6},
      "encoding": {
        "x": {"field": "v", "type": "quantitative", "scale": {"domain": [-0.4, 6.6], "nice": false, "zero": false},
              "axis": {"orient": "bottom", "values": [0, 2, 4, 6], "ticks": false, "labelFontSize": 20, "labelPadding": 32, "labelBaseline": "alphabetic", "title": "vᵣ [1000 km/s]", "titleFontSize": 21, "titleY": 58, "titleBaseline": "alphabetic"}},
        "y": {"field": "f", "type": "quantitative", "scale": {"type": "log", "domain": [3.1e-6, 2e-3], "nice": false},
              "axis": {"orient": "left", "values": [1e-5, 1e-4, 1e-3], "ticks": false, "labelExpr": "datum.value > 5e-4 ? '10⁻³' : datum.value > 5e-5 ? '10⁻⁴' : '10⁻⁵'", "labelFontSize": 18, "labelPadding": 11, "labelBaseline": "alphabetic", "labelOffset": 9, "title": null}},
        "color": {"field": "el", "type": "nominal", "scale": {"domain": ["H", "He", "C", "O+Ne+Mg", "Ni"], "range": ["#2b6e2b", "#ff38cc", "#22b022", "#ff2a58", "#2233ff"]}, "legend": null}
      }
    },
    {
      "data": {"name": "notes"},
      "transform": [{"filter": "datum.p === 'b'"}],
      "mark": {"type": "text", "align": "left", "baseline": "alphabetic", "fontSize": 18, "color": "#000000"},
      "encoding": {
        "x": {"field": "v", "type": "quantitative", "scale": {"domain": [-0.4, 6.6], "nice": false, "zero": false}, "axis": null},
        "y": {"field": "f", "type": "quantitative", "scale": {"type": "log", "domain": [3.1e-6, 2e-3], "nice": false}, "axis": null},
        "text": {"field": "label"}
      }
    },
    {
      "data": {"name": "notes"},
      "mark": {"type": "point", "opacity": 0},
      "encoding": {
        "x": {"field": "v", "type": "quantitative", "scale": {"domain": [-0.4, 6.6], "nice": false, "zero": false}, "axis": {"orient": "bottom", "values": [0, 2, 4, 6], "labels": false, "title": null, "tickSize": 6, "offset": -6}},
        "y": {"field": "f", "type": "quantitative", "scale": {"type": "log", "domain": [3.1e-6, 2e-3], "nice": false}, "axis": {"orient": "left", "values": [1e-5, 1e-4, 1e-3], "labels": false, "title": null, "tickSize": 12, "offset": -12}}
      }
    },
    {
      "data": {"name": "notes"},
      "mark": {"type": "point", "opacity": 0},
      "encoding": {
        "x": {"field": "v", "type": "quantitative", "scale": {"domain": [-0.4, 6.6], "nice": false, "zero": false}, "axis": {"orient": "bottom", "values": [0.4, 0.8, 1.2, 1.6, 2.4, 2.8, 3.2, 3.6, 4.4, 4.8, 5.2, 5.6, 6.4], "labels": false, "title": null, "tickSize": 3, "offset": -3}},
        "y": {"field": "f", "type": "quantitative", "scale": {"type": "log", "domain": [3.1e-6, 2e-3], "nice": false}, "axis": {"orient": "left", "values": [4e-6, 5e-6, 6e-6, 7e-6, 8e-6, 9e-6, 2e-5, 3e-5, 4e-5, 5e-5, 6e-5, 7e-5, 8e-5, 9e-5, 2e-4, 3e-4, 4e-4, 5e-4, 6e-4, 7e-4, 8e-4, 9e-4], "labels": false, "title": null, "tickSize": 6, "offset": -6}}
      }
    },
    {
      "data": {"name": "notes"},
      "mark": {"type": "point", "opacity": 0},
      "encoding": {
        "x": {"field": "v", "type": "quantitative", "scale": {"domain": [-0.4, 6.6], "nice": false, "zero": false}, "axis": {"orient": "top", "values": [0, 2, 4, 6], "labels": false, "title": null, "tickSize": 6, "offset": -6}},
        "y": {"field": "f", "type": "quantitative", "scale": {"type": "log", "domain": [3.1e-6, 2e-3], "nice": false}, "axis": {"orient": "right", "values": [1e-5, 1e-4, 1e-3], "labels": false, "title": null, "tickSize": 12, "offset": -12}}
      }
    },
    {
      "data": {"name": "notes"},
      "mark": {"type": "point", "opacity": 0},
      "encoding": {
        "x": {"field": "v", "type": "quantitative", "scale": {"domain": [-0.4, 6.6], "nice": false, "zero": false}, "axis": {"orient": "top", "values": [0.4, 0.8, 1.2, 1.6, 2.4, 2.8, 3.2, 3.6, 4.4, 4.8, 5.2, 5.6, 6.4], "labels": false, "title": null, "tickSize": 3, "offset": -3}},
        "y": {"field": "f", "type": "quantitative", "scale": {"type": "log", "domain": [3.1e-6, 2e-3], "nice": false}, "axis": {"orient": "right", "values": [4e-6, 5e-6, 6e-6, 7e-6, 8e-6, 9e-6, 2e-5, 3e-5, 4e-5, 5e-5, 6e-5, 7e-5, 8e-5, 9e-5, 2e-4, 3e-4, 4e-4, 5e-4, 6e-4, 7e-4, 8e-4, 9e-4], "labels": false, "title": null, "tickSize": 6, "offset": -6}}
      }
    }
  ]
}
]
}
